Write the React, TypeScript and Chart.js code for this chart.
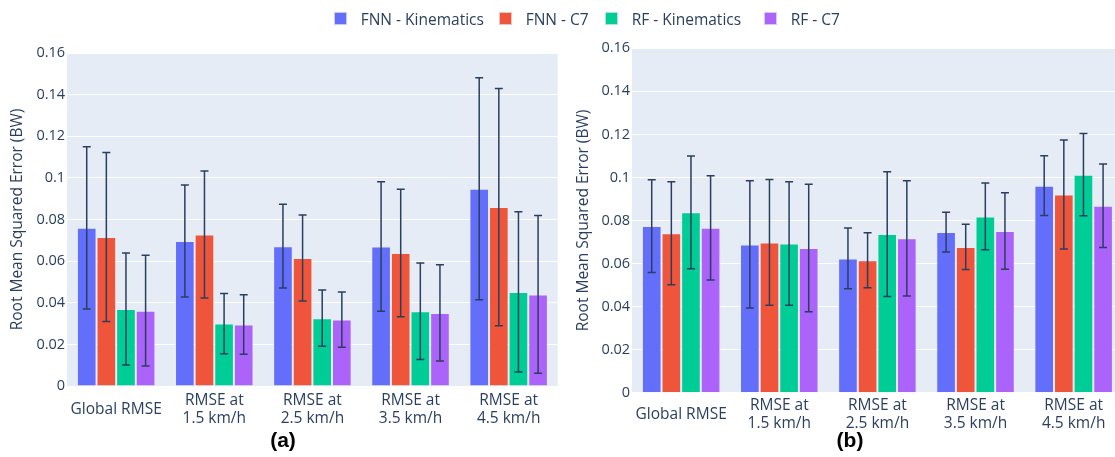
import React, { useEffect, useRef } from "react";
import { Chart, registerables } from "chart.js";

Chart.register(...registerables);

// ---- data ----
const categories: (string | string[])[] = [
  "Global RMSE",
  ["RMSE at", "1.5 km/h"],
  ["RMSE at", "2.5 km/h"],
  ["RMSE at", "3.5 km/h"],
  ["RMSE at", "4.5 km/h"],
];

const seriesNames = ["FNN - Kinematics", "FNN - C7", "RF - Kinematics", "RF - C7"];
const seriesColors = ["#636EFA", "#EF553B", "#00CC96", "#AB63FA"];

const yTickMin = 0;
const yTickMax = 0.16;
const yTickStep = 0.02;
const yTitle = "Root Mean Squared Error (BW)";

// panel (a): mean RMSE and its spread
const fnnKinA = [0.076, 0.0697, 0.0672, 0.067, 0.0948];
const fnnKinErrA = [0.039, 0.0269, 0.0201, 0.0311, 0.0533];
const fnnC7A = [0.0716, 0.0728, 0.0615, 0.0639, 0.086];
const fnnC7ErrA = [0.0406, 0.0305, 0.0207, 0.0306, 0.057];
const rfKinA = [0.037, 0.03, 0.0326, 0.0359, 0.0452];
const rfKinErrA = [0.0269, 0.0145, 0.0135, 0.0232, 0.0385];
const rfC7A = [0.0362, 0.0296, 0.0319, 0.0351, 0.044];
const rfC7ErrA = [0.0266, 0.0143, 0.0133, 0.0231, 0.0379];

// panel (b)
const fnnKinB = [0.0774, 0.0689, 0.0624, 0.0746, 0.0962];
const fnnKinErrB = [0.0215, 0.0296, 0.0141, 0.0092, 0.0139];
const fnnC7B = [0.0741, 0.0698, 0.0615, 0.0677, 0.0921];
const fnnC7ErrB = [0.0239, 0.0292, 0.0128, 0.0105, 0.0253];
const rfKinB = [0.0838, 0.0693, 0.0737, 0.0819, 0.1013];
const rfKinErrB = [0.0262, 0.0287, 0.029, 0.0155, 0.0191];
const rfC7B = [0.0766, 0.0672, 0.0717, 0.0751, 0.0869];
const rfC7ErrB = [0.0242, 0.0296, 0.0268, 0.0178, 0.0194];

// ---- styling ----
const TEXT = "#2a3f5f";
const PLOT_BG = "#E5ECF6";
const FONT = '"Open Sans", "DejaVu Sans", sans-serif';
const LABEL_SIZE = 15.5;
const LABEL_LINE = 18;

const plotBackground = {
  id: "plotBackground",
  beforeDraw(chart: any) {
    const { ctx, chartArea } = chart;
    if (!chartArea) return;
    ctx.save();
    ctx.fillStyle = PLOT_BG;
    ctx.fillRect(chartArea.left, chartArea.top, chartArea.right - chartArea.left, chartArea.bottom - chartArea.top);
    ctx.restore();
  },
};

// symmetric error bars drawn on top of every bar
const errorBars = {
  id: "errorBars",
  afterDatasetsDraw(chart: any, _args: any, opts: any) {
    const errs: number[][] = opts.errors || [];
    const y = chart.scales.y;
    const ctx = chart.ctx;
    ctx.save();
    ctx.strokeStyle = TEXT;
    ctx.lineWidth = 1.5;
    chart.data.datasets.forEach((ds: any, di: number) => {
      const meta = chart.getDatasetMeta(di);
      meta.data.forEach((bar: any, i: number) => {
        const v = ds.data[i];
        const e = errs[di] ? errs[di][i] : 0;
        const top = y.getPixelForValue(v + e);
        const bot = y.getPixelForValue(v - e);
        const x = bar.x;
        ctx.beginPath();
        ctx.moveTo(x, top);
        ctx.lineTo(x, bot);
        ctx.moveTo(x - 4, top);
        ctx.lineTo(x + 4, top);
        ctx.moveTo(x - 4, bot);
        ctx.lineTo(x + 4, bot);
        ctx.stroke();
      });
    });
    ctx.restore();
  },
};

// category labels, each block vertically centred under its group
const categoryLabels = {
  id: "categoryLabels",
  afterDraw(chart: any, _args: any, opts: any) {
    const { ctx, chartArea } = chart;
    const xs = chart.scales.x;
    ctx.save();
    ctx.font = `${LABEL_SIZE}px ${FONT}`;
    ctx.fillStyle = TEXT;
    ctx.textAlign = "center";
    ctx.textBaseline = "middle";
    const cy = chartArea.bottom + (opts.offset || 24);
    (chart.data.labels as any[]).forEach((lab, i) => {
      const lines: string[] = Array.isArray(lab) ? lab : [lab];
      const cx = xs.getPixelForValue(i);
      lines.forEach((ln, k) => {
        ctx.fillText(ln, cx, cy + (k - (lines.length - 1) / 2) * LABEL_LINE);
      });
    });
    ctx.restore();
  },
};

type PanelProps = {
  values: number[][];
  errors: number[][];
  width: number;
  height: number;
  padTop: number;
  padRight: number;
  yAxisWidth: number;
  xAxisHeight: number;
  titlePad: number;
  labelOffset: number;
};

function Panel(p: PanelProps) {
  const ref = useRef<HTMLCanvasElement | null>(null);
  useEffect(() => {
    if (!ref.current) return;
    const chart = new Chart(ref.current, {
      type: "bar",
      data: {
        labels: categories as any,
        datasets: seriesNames.map((name, i) => ({
          label: name,
          data: p.values[i],
          backgroundColor: seriesColors[i],
          borderColor: "rgba(229,236,246,0.75)",
          borderWidth: 1,
          categoryPercentage: 0.8,
          barPercentage: 1,
        })),
      },
      options: {
        responsive: false,
        animation: false,
        layout: { padding: { left: 0, top: p.padTop, right: p.padRight, bottom: 0 } },
        plugins: {
          legend: { display: false },
          tooltip: { enabled: false },
          errorBars: { errors: p.errors },
          categoryLabels: { offset: p.labelOffset },
        } as any,
        scales: {
          x: {
            grid: { display: false, drawTicks: false },
            border: { display: false },
            ticks: { display: false },
            afterFit(s: any) {
              s.height = p.xAxisHeight;
            },
          },
          y: {
            min: yTickMin,
            max: yTickMax,
            grid: { color: "#ffffff", lineWidth: 1, drawTicks: false },
            border: { display: false },
            ticks: {
              stepSize: yTickStep,
              color: TEXT,
              font: { family: FONT, size: 14.5 },
              padding: 2,
              callback: (v: any) => String(parseFloat(Number(v).toFixed(4))),
            },
            title: {
              display: true,
              text: yTitle,
              color: TEXT,
              font: { family: FONT, size: 15.5 },
              padding: { top: p.titlePad, bottom: 0 },
            },
            afterFit(s: any) {
              s.width = p.yAxisWidth;
            },
          },
        },
      },
      plugins: [plotBackground, errorBars, categoryLabels],
    } as any);
    return () => chart.destroy();
  }, []);
  return <canvas ref={ref} width={p.width} height={p.height} style={{ display: "block" }} />;
}

const legendLeft = [334, 499, 605, 764];

const panelLabelStyle: React.CSSProperties = {
  position: "absolute",
  top: 428,
  width: 50,
  textAlign: "center",
  fontFamily: '"Liberation Sans", Arial, sans-serif',
  fontWeight: "bold",
  fontSize: 21,
  lineHeight: "24px",
  color: "#000",
};

export default function App() {
  return (
    <div
      style={{
        position: "absolute",
        left: 0,
        top: 0,
        width: 1115,
        height: 457,
        overflow: "hidden",
        background: "#fff",
        fontFamily: FONT,
      }}
    >
      <div style={{ position: "absolute", left: 0, top: 0 }}>
        <Panel
          values={[fnnKinA, fnnC7A, rfKinA, rfC7A]}
          errors={[fnnKinErrA, fnnC7ErrA, rfKinErrA, rfC7ErrA]}
          width={565}
          height={457}
          padTop={53}
          padRight={7.3}
          yAxisWidth={67.1}
          xAxisHeight={71}
          titlePad={8.7}
          labelOffset={23.7}
        />
      </div>
      <div style={{ position: "absolute", left: 570, top: 0 }}>
        <Panel
          values={[fnnKinB, fnnC7B, rfKinB, rfC7B]}
          errors={[fnnKinErrB, fnnC7ErrB, rfKinErrB, rfC7ErrB]}
          width={560}
          height={457}
          padTop={48.3}
          padRight={7.3}
          yAxisWidth={62.1}
          xAxisHeight={64.3}
          titlePad={4.7}
          labelOffset={21.5}
        />
      </div>
      {seriesNames.map((name, i) => (
        <div key={name} style={{ position: "absolute", left: legendLeft[i], top: 8, height: 22 }}>
          <div
            style={{
              position: "absolute",
              left: 0,
              top: 4,
              width: 13,
              height: 13,
              boxSizing: "border-box",
              background: seriesColors[i],
              border: "1px solid rgba(229,236,246,0.75)",
            }}
          />
          <div
            style={{
              position: "absolute",
              left: 26.7,
              top: 0,
              lineHeight: "22px",
              fontSize: 15.5,
              color: TEXT,
              whiteSpace: "nowrap",
            }}
          >
            {name}
          </div>
        </div>
      ))}
      <div style={{ ...panelLabelStyle, left: 258 }}>(a)</div>
      <div style={{ ...panelLabelStyle, left: 825 }}>(b)</div>
    </div>
  );
}
